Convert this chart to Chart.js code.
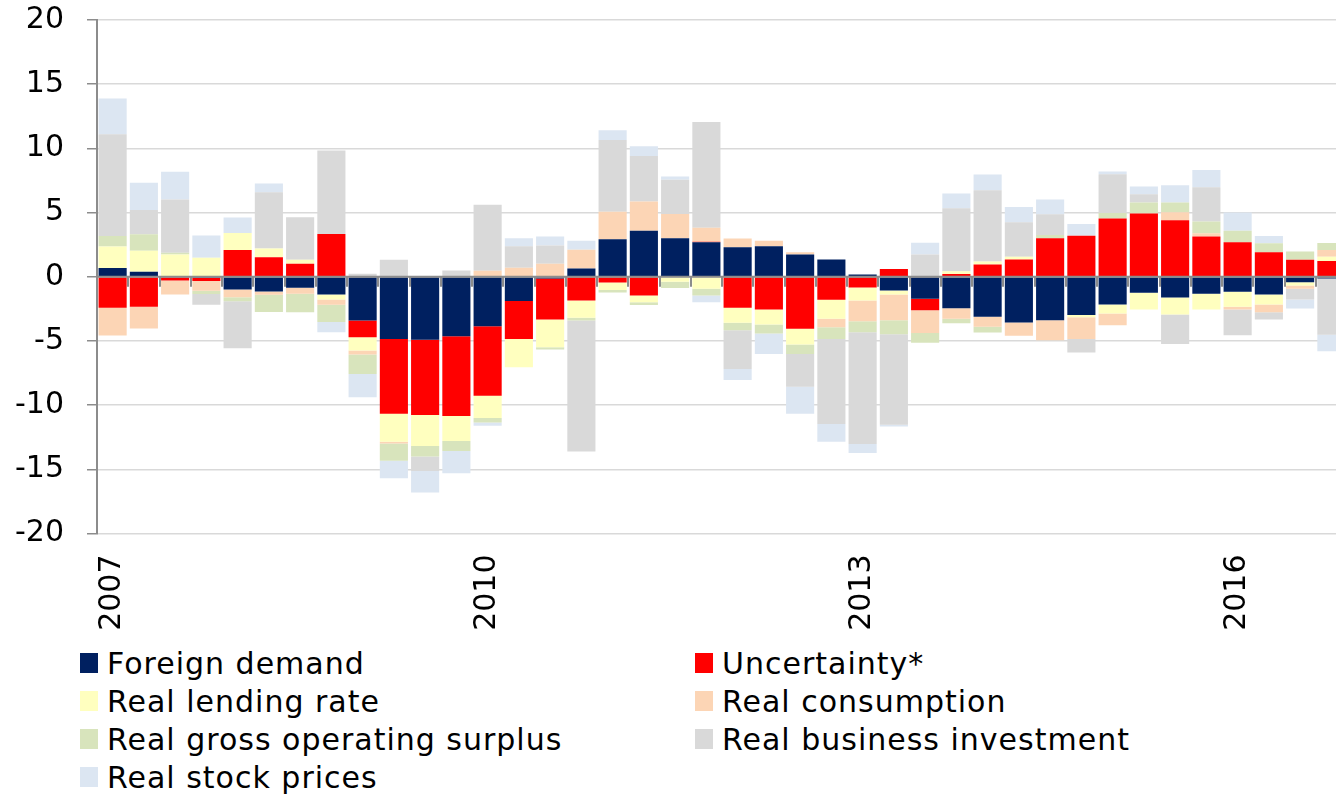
<!DOCTYPE html>
<html>
<head>
<meta charset="utf-8">
<script src="https://cdn.jsdelivr.net/npm/chart.js@4/dist/chart.umd.min.js"></script>
<style>
  html, body { margin:0; padding:0; background:#fff; overflow:hidden; width:1336px; height:794px; }
  #wrap { position:absolute; left:0; top:0; width:1347px; height:640px; }
  #legend {
    position:absolute; left:80px; top:644px;
    display:grid; grid-template-columns:615px 600px; row-gap:0;
    font-family:"DejaVu Sans", Verdana, sans-serif; font-size:30px; letter-spacing:1px; color:#000;
  }
  .item { display:flex; align-items:center; height:38px; white-space:nowrap; }
  .box { width:18px; height:20px; margin-right:9px; flex:none; }
</style>
</head>
<body>
<div id="wrap"><canvas id="chart" width="1347" height="640"></canvas></div>
<div id="legend"></div>
<script>
// quarters 2007Q1 .. 2016Q4
const quarters = [];
for (let y = 2007; y <= 2016; y++) for (let q = 1; q <= 4; q++) quarters.push(y + "Q" + q);
const yearLabels = ["2007", "2010", "2013", "2016"];

const foreignDemand = [0.68,0.39,0,-0.1,-1.0,-1.15,-0.86,-1.38,-3.41,-4.84,
  -4.9,-4.64,-3.85,-1.88,-0.13,0.65,2.92,3.59,2.99,2.68,
  2.29,2.37,1.74,1.35,0.18,-1.07,-1.72,-2.45,-3.12,-3.57,
  -3.39,-2.97,-2.16,-1.25,-1.61,-1.33,-1.17,-1.38,-0.42,-0.13];
const uncertainty = [-2.42,-2.34,-0.29,-0.24,2.08,1.51,1.02,3.33,-1.3,-5.83,
  -5.86,-6.2,-5.42,-2.97,-3.2,-1.85,-0.44,-1.46,-0.05,0.05,
  -2.42,-2.55,-4.06,-1.8,-0.83,0.6,-0.89,0.21,0.96,1.35,
  2.99,3.2,4.53,4.92,4.4,3.13,2.68,1.9,1.33,1.22];
const lendingRate = [1.67,1.64,1.74,1.48,1.33,0.7,0.31,-0.39,-1.04,-2.19,
  -2.42,-1.95,-1.74,-2.19,-2.16,-1.35,-0.6,-0.52,-0.34,-0.94,
  -1.17,-1.17,-1.22,-1.48,-1.02,-0.31,0,0.21,0.23,0.21,
  0,-0.18,-0.7,-1.3,-1.33,-1.22,-1.17,-0.78,-0.26,0.34];
const consumption = [-2.16,-1.69,-1.09,-0.75,-0.6,-0.26,-0.47,-0.42,-0.31,-0.13,
  0,0.05,0.47,0.7,1.02,1.46,2.14,2.27,1.9,1.09,
  0.68,0.44,0.16,-0.65,-1.61,-2.0,-1.77,-0.83,-0.78,-1.02,
  -1.56,-1.69,-0.91,0,0.63,0.26,-0.21,-0.6,-0.26,0.52];
const operatingSurplus = [0.83,1.28,0.13,-0.26,-0.31,-1.33,-1.43,-1.33,-1.51,-1.35,
  -0.83,-0.78,-0.34,0,-0.18,-0.21,-0.18,-0.23,-0.49,-0.52,
  -0.57,-0.7,-0.73,-0.91,-0.86,-1.09,-0.76,-0.34,-0.44,0,
  0.26,0,0.44,0.86,0.76,0.91,0.91,0.7,0.63,0.55];
const businessInvestment = [7.92,1.88,4.14,-0.83,-3.65,4.38,3.31,6.51,0.23,1.33,
  -1.12,0.44,5.13,1.67,1.41,-10.2,5.6,3.54,2.66,8.23,
  -3.02,0,-2.55,-6.64,-8.7,-7.06,1.74,4.92,5.55,2.68,
  1.61,-1.07,3.02,0.65,-2.29,2.68,-2.0,-0.57,-0.83,-4.38];
const stockPrices = [2.79,2.14,2.16,1.74,1.2,0.68,0,-0.81,-1.82,-1.35,
  -1.67,-1.74,-0.26,0.63,0.7,0.7,0.76,0.76,0.26,-0.52,
  -0.86,-1.59,-2.11,-1.38,-0.7,-0.13,0.91,1.15,1.22,1.2,
  1.15,0.91,0.21,0.6,1.33,1.33,1.41,0.57,-0.7,-1.3];

const series = [
  { label:"Foreign demand", data:foreignDemand, color:"#002060" },
  { label:"Uncertainty*", data:uncertainty, color:"#FF0000" },
  { label:"Real lending rate", data:lendingRate, color:"#FFFFBF" },
  { label:"Real consumption", data:consumption, color:"#FCD5B5" },
  { label:"Real gross operating surplus", data:operatingSurplus, color:"#D8E4BC" },
  { label:"Real business investment", data:businessInvestment, color:"#D9D9D9" },
  { label:"Real stock prices", data:stockPrices, color:"#DCE6F2" }
];

const font = "'DejaVu Sans', Verdana, sans-serif";

// zero axis line with tick marks between quarters
const zeroAxis = {
  id: "zeroAxis",
  afterDatasetsDraw(chart){
    const ctx = chart.ctx, x = chart.scales.x, area = chart.chartArea;
    const y0 = chart.scales.y.getPixelForValue(0);
    const step = x.width / quarters.length;
    ctx.save();
    ctx.strokeStyle = "#8c8c8c";
    ctx.lineWidth = 2;
    ctx.beginPath();
    ctx.moveTo(area.left, y0);
    ctx.lineTo(area.right, y0);
    for (let i = 0; i <= quarters.length; i++) {
      const xb = Math.round(x.left + i * step);
      ctx.moveTo(xb, y0);
      ctx.lineTo(xb, y0 + 10);
    }
    ctx.stroke();
    ctx.restore();
  }
};

new Chart(document.getElementById("chart"), {
  type: "bar",
  data: {
    labels: quarters,
    datasets: series.map(s => ({
      label: s.label, data: s.data, backgroundColor: s.color,
      borderWidth: 0, barPercentage: 0.9, categoryPercentage: 1
    }))
  },
  options: {
    responsive: false,
    animation: false,
    devicePixelRatio: 1,
    layout: { padding: { top: 20, left: 0, right: 0, bottom: 0 } },
    plugins: { legend: { display: false }, tooltip: { enabled: false } },
    scales: {
      x: {
        stacked: true,
        grid: { display: false, drawTicks: false },
        border: { display: false },
        ticks: {
          autoSkip: false, maxRotation: 90, minRotation: 90, padding: 21,
          color: "#000", font: { family: font, size: 30 },
          callback: (v, i) => {
            const q = quarters[i];
            return (q.endsWith("Q1") && yearLabels.includes(q.slice(0, 4))) ? q.slice(0, 4) : "";
          }
        },
        afterFit: s => { s.height = 106.5; s.paddingLeft = 0; s.paddingRight = 0; }
      },
      y: {
        stacked: true,
        min: -20, max: 20,
        grid: { color: "#d9d9d9", lineWidth: 1.5, tickColor: "#8c8c8c", tickLength: 10 },
        border: { color: "#8c8c8c", width: 2 },
        ticks: { stepSize: 5, padding: 23, color: "#000", font: { family: font, size: 30 } },
        afterFit: s => { s.width = 97; s.paddingTop = 0; s.paddingBottom = 0; }
      }
    }
  },
  plugins: [zeroAxis]
});

// two-column legend
const legend = document.getElementById("legend");
series.forEach(s => {
  legend.innerHTML += `<div class="item"><span class="box" style="background:${s.color}"></span>${s.label}</div>`;
});
</script>
</body>
</html>
